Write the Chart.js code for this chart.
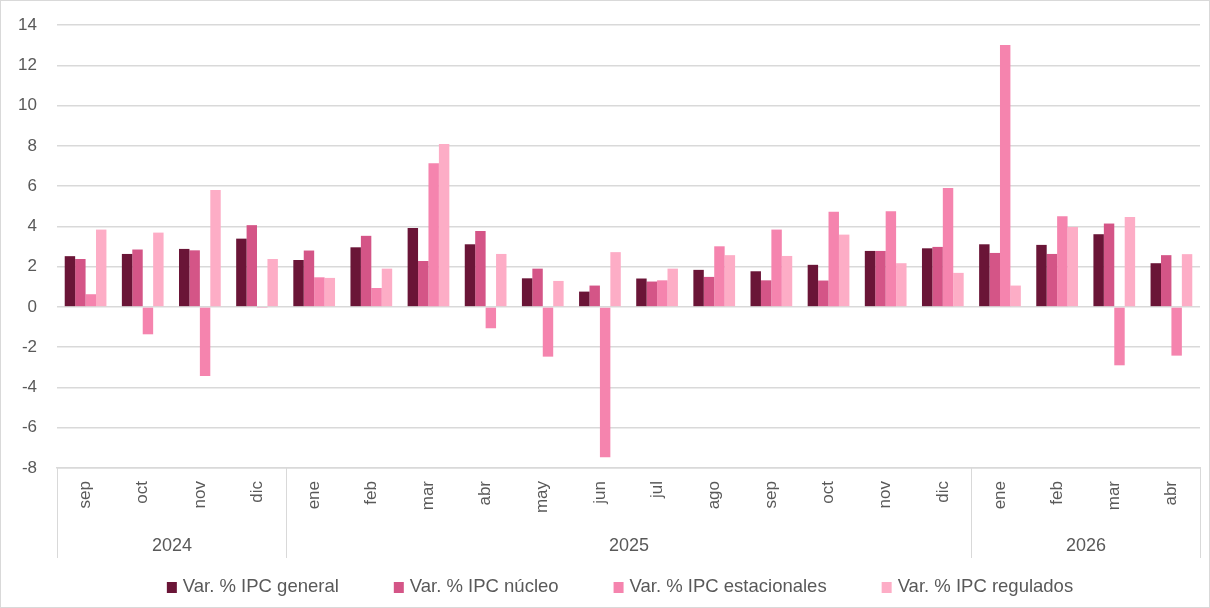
<!DOCTYPE html>
<html>
<head>
<meta charset="utf-8">
<script src="https://cdn.jsdelivr.net/npm/chart.js@4.4.1/dist/chart.umd.min.js"></script>
<style>
  body { margin: 0; background: #fff; }
</style>
</head>
<body>
<canvas id="ipcchart" width="1210" height="608"></canvas>
<script>
var months = ['sep', 'oct', 'nov', 'dic', 'ene', 'feb', 'mar', 'abr', 'may', 'jun', 'jul', 'ago', 'sep', 'oct', 'nov', 'dic', 'ene', 'feb', 'mar', 'abr'];
var years = ['2024', '2025', '2026'];
var yearMonths = [4, 12, 4];

var ipcGeneral = [2.52, 2.63, 2.88, 3.39, 2.33, 2.96, 3.92, 3.11, 1.42, 0.76, 1.41, 1.84, 1.77, 2.09, 2.78, 2.91, 3.11, 3.08, 3.61, 2.17];
var ipcNucleo = [2.38, 2.85, 2.81, 4.06, 2.80, 3.53, 2.28, 3.77, 1.90, 1.06, 1.26, 1.49, 1.32, 1.31, 2.78, 2.98, 2.68, 2.63, 4.14, 2.57];
var ipcEstacionales = [0.63, -1.36, -3.43, -0.02, 1.47, 0.94, 7.13, -1.06, -2.47, -7.46, 1.32, 3.01, 3.84, 4.72, 4.75, 5.91, 13.01, 4.50, -2.90, -2.42];
var ipcRegulados = [3.84, 3.69, 5.81, 2.38, 1.44, 1.90, 8.09, 2.63, 1.29, 2.72, 1.90, 2.57, 2.53, 3.59, 2.17, 1.69, 1.06, 3.97, 4.47, 2.62];

var seriesNames = ['Var. % IPC general', 'Var. % IPC núcleo', 'Var. % IPC estacionales', 'Var. % IPC regulados'];
var seriesColors = ['#6a1537', '#d45587', '#f584ae', '#fdadc6'];

var FONT = '"Liberation Sans", Arial, sans-serif';
var TEXT = '#595959';
var GRID = '#d9d9d9';

// year row, separators, legend and outer frame (Excel style)
const excelExtras = {
    id: 'excelExtras',
    afterDraw(chart) {
        const ctx = chart.ctx;
        const x = chart.scales.x;
        const top = chart.chartArea.bottom;
        ctx.save();

        ctx.strokeStyle = GRID;
        ctx.lineWidth = 1;
        ctx.strokeRect(0.5, 0.5, chart.width - 1, chart.height - 1);

        var start = 0;
        ctx.font = '18px ' + FONT;
        ctx.fillStyle = TEXT;
        ctx.textAlign = 'center';
        ctx.textBaseline = 'middle';
        for (var i = 0; i < years.length; i++) {
            var x0 = Math.round(x.getPixelForValue(start - 0.5)) + 0.5;
            var x1 = Math.round(x.getPixelForValue(start + yearMonths[i] - 0.5)) + 0.5;
            ctx.beginPath();
            ctx.moveTo(x0, top);
            ctx.lineTo(x0, 558);
            ctx.moveTo(x1, top);
            ctx.lineTo(x1, 558);
            ctx.stroke();
            ctx.fillText(years[i], (x0 + x1) / 2, 546);
            start += yearMonths[i];
        }

        // legend
        ctx.font = '18.5px ' + FONT;
        var box = 10, gapText = 6, gapItem = 55;
        var widths = chart.data.datasets.map(function (ds) {
            return box + gapText + ctx.measureText(ds.label).width;
        });
        var total = widths.reduce(function (a, b) { return a + b; }, 0) + gapItem * (widths.length - 1);
        var lx = 620 - total / 2;
        var ly = 587;
        ctx.textAlign = 'left';
        chart.data.datasets.forEach(function (ds, k) {
            ctx.fillStyle = ds.backgroundColor;
            ctx.fillRect(lx, ly - 5, box, 11);
            ctx.fillStyle = TEXT;
            ctx.fillText(ds.label, lx + box + gapText, ly);
            lx += widths[k] + gapItem;
        });
        ctx.restore();
    }
};

var seriesData = [ipcGeneral, ipcNucleo, ipcEstacionales, ipcRegulados];

new Chart(document.getElementById('ipcchart'), {
    type: 'bar',
    data: {
        labels: months,
        datasets: seriesData.map(function (d, i) {
            return {
                label: seriesNames[i],
                data: d,
                backgroundColor: seriesColors[i],
                borderWidth: 0,
                categoryPercentage: 0.73,
                barPercentage: 1.0
            };
        })
    },
    options: {
        responsive: false,
        animation: false,
        layout: {
            padding: { top: 25, right: 10, left: 0, bottom: 0 }
        },
        plugins: {
            legend: { display: false },
            tooltip: { enabled: false }
        },
        scales: {
            y: {
                min: -8,
                max: 14,
                ticks: {
                    stepSize: 2,
                    color: TEXT,
                    font: { family: FONT, size: 17 },
                    padding: 20
                },
                grid: {
                    color: GRID,
                    lineWidth: 1.5,
                    drawTicks: false
                },
                border: { display: false },
                afterFit: function (scale) {
                    scale.width = 57;
                    scale.paddingTop = 0;
                    scale.paddingBottom = 0;
                }
            },
            x: {
                grid: { display: false, drawTicks: false },
                border: { display: true, color: GRID, width: 1.5 },
                ticks: {
                    minRotation: 90,
                    maxRotation: 90,
                    autoSkip: false,
                    color: TEXT,
                    font: { family: FONT, size: 17 },
                    padding: 13
                },
                afterFit: function (scale) {
                    scale.height = 140;
                    scale.paddingLeft = 0;
                    scale.paddingRight = 0;
                }
            }
        }
    },
    plugins: [excelExtras]
});
</script>
</body>
</html>
